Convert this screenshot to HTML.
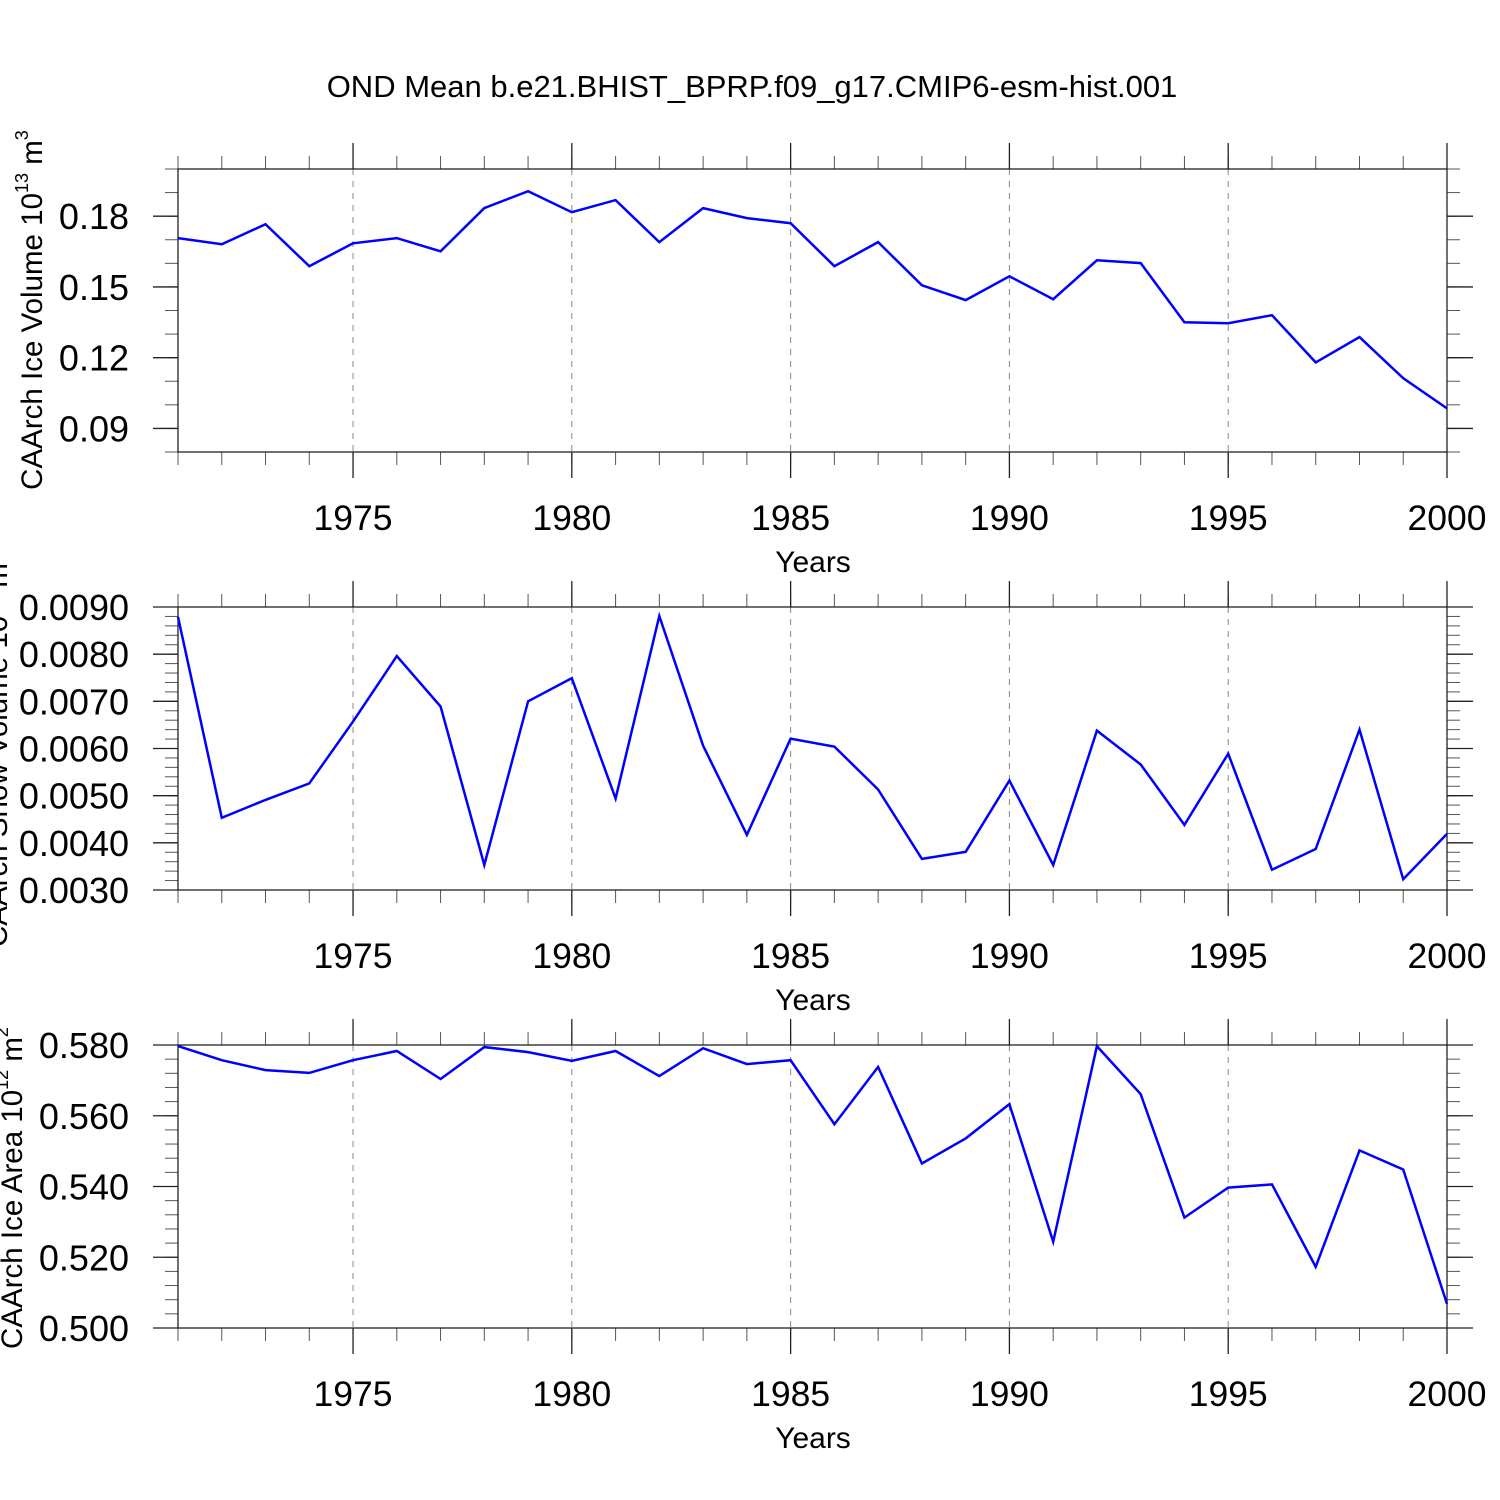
<!DOCTYPE html>
<html><head><meta charset="utf-8"><style>
html,body{margin:0;padding:0;background:#fff;}
svg{display:block;font-family:"Liberation Sans",Arial,sans-serif;}
</style></head><body>
<svg id="chart" width="1500" height="1500" viewBox="0 0 1500 1500">
<text x="752" y="97" font-size="31" text-anchor="middle">OND Mean b.e21.BHIST_BPRP.f09_g17.CMIP6-esm-hist.001</text>
</svg>
<script>
const years = [1971,1972,1973,1974,1975,1976,1977,1978,1979,1980,1981,1982,1983,1984,1985,1986,1987,1988,1989,1990,1991,1992,1993,1994,1995,1996,1997,1998,1999,2000];
const iceVolume = [0.1707,0.1681,0.1766,0.1588,0.1685,0.1707,0.1651,0.1834,0.1906,0.1817,0.1868,0.1690,0.1834,0.1792,0.1770,0.1588,0.1690,0.1507,0.1444,0.1545,0.1448,0.1613,0.1601,0.1350,0.1346,0.1380,0.1180,0.1287,0.1113,0.0985];
const snowVolume = [0.00879,0.00453,0.00491,0.00526,0.00657,0.00796,0.00689,0.00353,0.00700,0.00749,0.00494,0.00881,0.00606,0.00417,0.00621,0.00604,0.00513,0.00366,0.00381,0.00532,0.00353,0.00638,0.00566,0.00438,0.00589,0.00343,0.00387,0.00640,0.00323,0.00419];
const iceArea = [0.5797,0.5757,0.5729,0.5721,0.5757,0.5783,0.5704,0.5794,0.5780,0.5755,0.5783,0.5712,0.5791,0.5746,0.5757,0.5576,0.5738,0.5465,0.5536,0.5633,0.5244,0.5797,0.5661,0.5312,0.5397,0.5406,0.5173,0.5502,0.5448,0.5068];
const xTicks = [1975,1980,1985,1990,1995,2000];
const yTicks1 = [0.09,0.12,0.15,0.18];
const yTickLabels1 = ["0.09","0.12","0.15","0.18"];
const yTicks2 = [0.003,0.004,0.005,0.006,0.007,0.008,0.009];
const yTickLabels2 = ["0.0030","0.0040","0.0050","0.0060","0.0070","0.0080","0.0090"];
const yTicks3 = [0.50,0.52,0.54,0.56,0.58];
const yTickLabels3 = ["0.500","0.520","0.540","0.560","0.580"];

const NS="http://www.w3.org/2000/svg";
const svg=document.getElementById('chart');
function mk(tag,attrs,parent){const e=document.createElementNS(NS,tag);for(const k in attrs)e.setAttribute(k,attrs[k]);(parent||svg).appendChild(e);return e;}
const X0=178,X1=1447;
function xs(y){return X0+(y-1971)/(2000-1971)*(X1-X0);}

function panel(name,top,ymin,ymax,minorStep,vals,ticks,labels,ylabel,sup,unit,ylx,yly){
  const bot=top+283;
  const ys=v=>bot-(v-ymin)/(ymax-ymin)*(bot-top);
  const g=mk('g',{});
  
  
  xTicks.forEach(t=>{if(t<2000){const l=mk('line',{x1:xs(t),x2:xs(t),y1:top,y2:bot,stroke:'#888','stroke-width':1,'stroke-dasharray':'6,6'},g);
    
    }});
  const nMin=Math.round((ymax-ymin)/minorStep);
  for(let i=0;i<=nMin;i++){const v=ymin+i*minorStep;const y=ys(v);
    mk('line',{x1:X0-13,x2:X0,y1:y,y2:y,stroke:'#555','stroke-width':1},g);
    mk('line',{x1:X1,x2:X1+13,y1:y,y2:y,stroke:'#555','stroke-width':1},g);}
  ticks.forEach((v,i)=>{const y=ys(v);
    mk('line',{x1:X0-25,x2:X0,y1:y,y2:y,stroke:'#222','stroke-width':1.3},g);
    mk('line',{x1:X1,x2:X1+26,y1:y,y2:y,stroke:'#222','stroke-width':1.3},g);
    const t=mk('text',{x:129,y:y+13,'font-size':36,'text-anchor':'end'},g);t.textContent=labels[i];
    
    });
  years.forEach(yr=>{const x=xs(yr);
    mk('line',{x1:x,x2:x,y1:top-13,y2:top,stroke:'#555','stroke-width':1},g);
    mk('line',{x1:x,x2:x,y1:bot,y2:bot+13,stroke:'#555','stroke-width':1},g);});
  xTicks.forEach(t=>{const x=xs(t);
    mk('line',{x1:x,x2:x,y1:top-26,y2:top,stroke:'#222','stroke-width':1.3},g);
    mk('line',{x1:x,x2:x,y1:bot,y2:bot+26,stroke:'#222','stroke-width':1.3},g);
    const tx=mk('text',{x:x,y:bot+78,'font-size':35.5,'text-anchor':'middle'},g);tx.textContent=t;
    
    });
  const box=mk('rect',{x:X0,y:top,width:X1-X0,height:bot-top,fill:'none',stroke:'#222','stroke-width':1.3},g);
  
  
  const pts=years.map((yr,i)=>xs(yr).toFixed(1)+','+ys(vals[i]).toFixed(1)).join(' ');
  const pl=mk('polyline',{points:pts,fill:'none',stroke:'#0000ff','stroke-width':2.5,'stroke-linejoin':'miter'},g);
  
  
  const xt=mk('text',{x:813,y:bot+120,'font-size':30,'text-anchor':'middle'},g);xt.textContent='Years';
  
  
  const yl=mk('text',{x:0,y:0,'font-size':29.5,'text-anchor':'middle',transform:`translate(${ylx},${yly}) rotate(-90)`},g);
  yl.appendChild(document.createTextNode(ylabel+' 10'));
  const s=mk('tspan',{'font-size':18,dy:-14},yl);s.textContent=sup;
  const s2=mk('tspan',{dy:14},yl);s2.textContent=' m';
  const s3=mk('tspan',{'font-size':18,dy:-14},yl);s3.textContent=unit;
  
  
}
panel('ice-volume',169,0.08,0.20,0.01,iceVolume,yTicks1,yTickLabels1,'CAArch Ice Volume','13','3',42,310);
panel('snow-volume',607,0.003,0.009,0.0002,snowVolume,yTicks2,yTickLabels2,'CAArch Snow Volume','13','3',7,750);
panel('ice-area',1045,0.50,0.58,0.004,iceArea,yTicks3,yTickLabels3,'CAArch Ice Area','12','2',22,1188);
</script>
</body></html>
